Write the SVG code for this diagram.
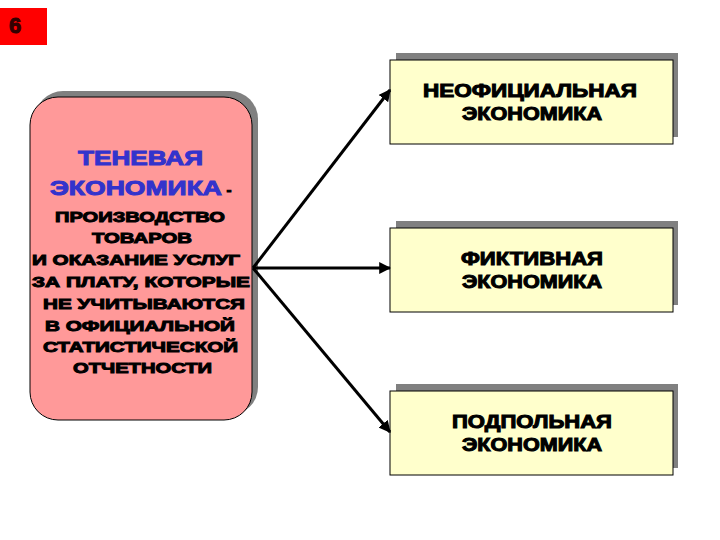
<svg xmlns="http://www.w3.org/2000/svg" width="720" height="540" viewBox="0 0 720 540">
<defs>
<style>
.t{font-family:"Liberation Sans",Arial,sans-serif;font-weight:bold;text-anchor:middle;fill:#000;stroke:#000;stroke-width:1}
.s{font-size:15.5px}
.r{font-size:18px}
.b{fill:#3333CC;stroke:#3333CC;font-size:21px}
.box{fill:#FFFFCC;stroke:#000;stroke-width:1}
.sh{fill:#808080}
.c{stroke:#000;stroke-width:3;fill:none;marker-end:url(#ah)}
</style>
<marker id="ah" viewBox="0 0 10 10" refX="9" refY="5" markerWidth="4" markerHeight="4" orient="auto" markerUnits="strokeWidth">
<path d="M0,0 L10,5 L0,10 z" fill="#000"/>
</marker>
</defs>
<rect width="720" height="540" fill="#fff"/>
<g id="num">
<rect x="0" y="8" width="47" height="37" fill="#FF0000"/>
<text class="t" x="15" y="33" style="font-size:22px;fill:#330000;stroke:#330000">6</text>
</g>
<g id="shadow-economy">
<rect class="sh" x="35" y="91" width="223" height="324" rx="28"/>
<rect x="30" y="97" width="222" height="323" rx="28" fill="#FF9999" stroke="#000" stroke-width="1"/>
<text class="t b" x="140.5" y="165" textLength="125" lengthAdjust="spacingAndGlyphs">ТЕНЕВАЯ</text>
<text class="t b" x="136" y="195" textLength="172" lengthAdjust="spacingAndGlyphs">ЭКОНОМИКА</text>
<text class="t" x="229" y="195" style="font-size:15px">-</text>
<text class="t s" x="140" y="222" textLength="170" lengthAdjust="spacingAndGlyphs">ПРОИЗВОДСТВО</text>
<text class="t s" x="142" y="243" textLength="100" lengthAdjust="spacingAndGlyphs">ТОВАРОВ</text>
<text class="t s" x="136" y="265" textLength="208" lengthAdjust="spacingAndGlyphs">И ОКАЗАНИЕ УСЛУГ</text>
<text class="t s" x="141" y="287" textLength="218" lengthAdjust="spacingAndGlyphs">ЗА ПЛАТУ, КОТОРЫЕ</text>
<text class="t s" x="144" y="309" textLength="202" lengthAdjust="spacingAndGlyphs">НЕ УЧИТЫВАЮТСЯ</text>
<text class="t s" x="140" y="331" textLength="190" lengthAdjust="spacingAndGlyphs">В ОФИЦИАЛЬНОЙ</text>
<text class="t s" x="140.5" y="352" textLength="195" lengthAdjust="spacingAndGlyphs">СТАТИСТИЧЕСКОЙ</text>
<text class="t s" x="142.5" y="373" textLength="139" lengthAdjust="spacingAndGlyphs">ОТЧЕТНОСТИ</text>
</g>
<g id="unofficial">
<rect class="sh" x="396" y="53" width="282" height="84"/>
<rect class="box" x="390" y="60" width="283" height="84"/>
<text class="t r" x="530" y="97" textLength="214" lengthAdjust="spacingAndGlyphs">НЕОФИЦИАЛЬНАЯ</text>
<text class="t r" x="532" y="120" textLength="140" lengthAdjust="spacingAndGlyphs">ЭКОНОМИКА</text>
</g>
<g id="fictitious">
<rect class="sh" x="396" y="221" width="282" height="84"/>
<rect class="box" x="390" y="228" width="283" height="84"/>
<text class="t r" x="532" y="265" textLength="142" lengthAdjust="spacingAndGlyphs">ФИКТИВНАЯ</text>
<text class="t r" x="532" y="288" textLength="140" lengthAdjust="spacingAndGlyphs">ЭКОНОМИКА</text>
</g>
<g id="underground">
<rect class="sh" x="396" y="384" width="282" height="84"/>
<rect class="box" x="390" y="391" width="283" height="84"/>
<text class="t r" x="532" y="428" textLength="160" lengthAdjust="spacingAndGlyphs">ПОДПОЛЬНАЯ</text>
<text class="t r" x="532" y="451" textLength="140" lengthAdjust="spacingAndGlyphs">ЭКОНОМИКА</text>
</g>
<g id="connectors">
<line class="c" x1="253" y1="268" x2="390" y2="90"/>
<line class="c" x1="253" y1="268" x2="390" y2="268"/>
<line class="c" x1="253" y1="268" x2="390" y2="432"/>
</g>
</svg>
